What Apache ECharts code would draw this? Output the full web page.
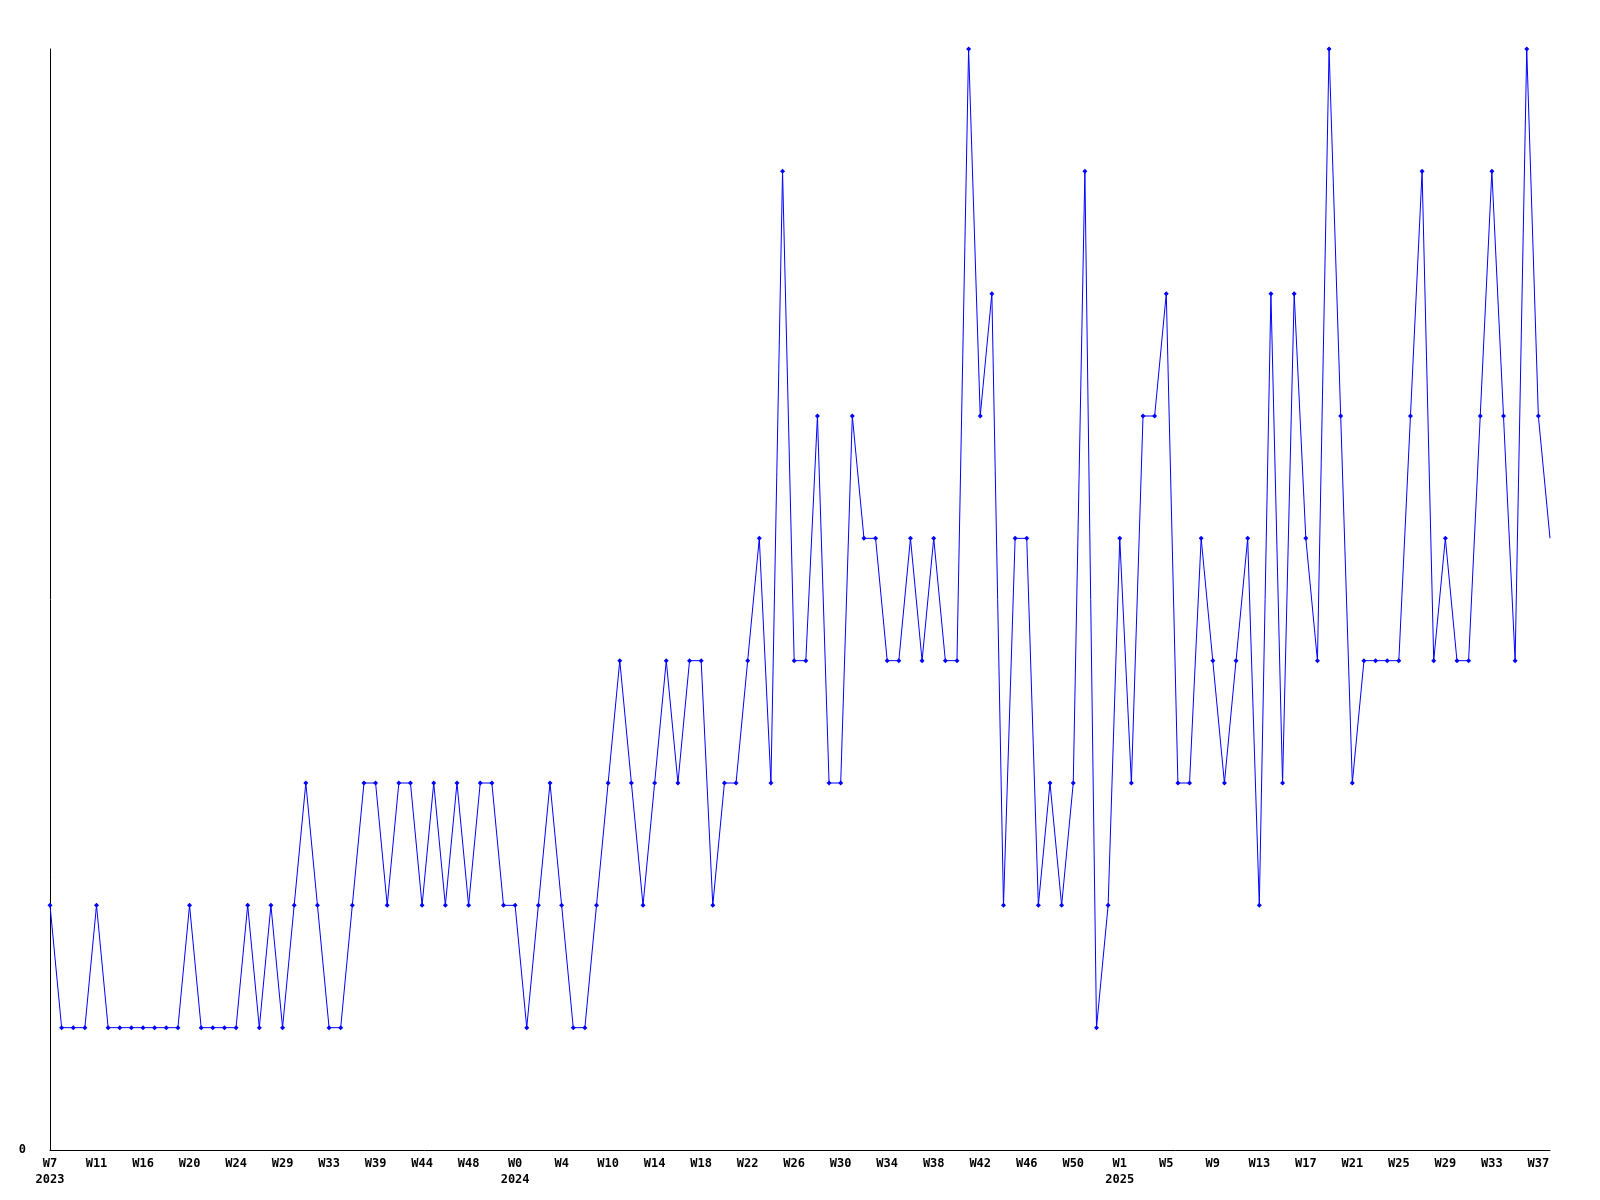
<!DOCTYPE html>
<html>
<head>
<meta charset="utf-8">
<script src="https://cdn.jsdelivr.net/npm/echarts@6/dist/echarts.min.js"></script>
<style>
  html, body { margin: 0; padding: 0; background: #ffffff; }
  #chart { width: 1600px; height: 1200px; }
</style>
</head>
<body>
<div id="chart"></div>
<script>
// Week labels (one per data point); every 4th is shown on the axis
const weeks = [
  'W7','W8','W9','W10','W11','W12','W13','W15','W16','W17',
  'W18','W19','W20','W21','W22','W23','W24','W25','W26','W28',
  'W29','W30','W31','W32','W33','W34','W36','W37','W39','W40',
  'W41','W43','W44','W45','W46','W47','W48','W49','W50','W51',
  'W0','W1','W2','W3','W4','W5','W7','W8','W10','W11',
  'W12','W13','W14','W15','W16','W17','W18','W19','W20','W21',
  'W22','W23','W24','W25','W26','W27','W28','W29','W30','W31',
  'W32','W33','W34','W35','W36','W37','W38','W39','W40','W41',
  'W42','W43','W44','W45','W46','W47','W48','W49','W50','W51',
  'W52','W0','W1','W2','W3','W4','W5','W6','W7','W8',
  'W9','W10','W11','W12','W13','W14','W15','W16','W17','W18',
  'W19','W20','W21','W22','W23','W24','W25','W26','W27','W28',
  'W29','W30','W31','W32','W33','W34','W35','W36','W37','W38'
];
// Year shown under the first week of each year (index -> year)
const yearIndex = [0, 40, 92];
const yearLabels = ['2023', '2024', '2025'];

// Weekly counts
const values = [
  2,1,1,1,2,1,1,1,1,1,
  1,1,2,1,1,1,1,2,1,2,
  1,2,3,2,1,1,2,3,3,2,
  3,3,2,3,2,3,2,3,3,2,
  2,1,2,3,2,1,1,2,3,4,
  3,2,3,4,3,4,4,2,3,3,
  4,5,3,8,4,4,6,3,3,6,
  5,5,4,4,5,4,5,4,4,9,
  6,7,2,5,5,2,3,2,3,8,
  1,2,5,3,6,6,7,3,3,5,
  4,3,4,5,2,7,3,7,5,4,
  9,6,3,4,4,4,4,6,8,4,
  5,4,4,6,8,6,4,9,6,5
];

const yTicks = [0];

const categories = weeks.map((w, i) => {
  const k = yearIndex.indexOf(i);
  return k >= 0 ? w + '\n' + yearLabels[k] : w;
});
const seriesData = values.map((v, i) =>
  i === values.length - 1 ? { value: v, symbol: 'none' } : v
);

const chart = echarts.init(document.getElementById('chart'), null, { renderer: 'canvas' });
const labelFont = {
  fontFamily: 'DejaVu Sans Mono',
  fontWeight: 'bold',
  fontSize: 12,
  color: '#000000'
};
chart.setOption({
  backgroundColor: '#ffffff',
  animation: false,
  grid: { left: 50, right: 50, top: 49, bottom: 50, containLabel: false },
  xAxis: {
    type: 'category',
    data: categories,
    boundaryGap: false,
    axisLine: { show: true, lineStyle: { color: '#000000', width: 1 } },
    axisTick: { show: false },
    splitLine: { show: false },
    axisLabel: Object.assign({
      interval: 3,
      margin: 6,
      lineHeight: 16,
      align: 'center'
    }, labelFont)
  },
  yAxis: {
    type: 'value',
    min: 0,
    max: 9,
    interval: 9,
    axisLine: { show: true, lineStyle: { color: '#000000', width: 1 } },
    axisTick: { show: false },
    splitLine: { show: false },
    axisLabel: Object.assign({
      margin: 24,
      formatter: v => (yTicks.indexOf(v) >= 0 ? String(v) : '')
    }, labelFont)
  },
  series: [{
    type: 'line',
    data: seriesData,
    symbol: 'diamond',
    symbolSize: 5,
    showSymbol: true,
    lineStyle: { color: '#0000ff', width: 1 },
    itemStyle: { color: '#0000ff' }
  }]
});
</script>
</body>
</html>
